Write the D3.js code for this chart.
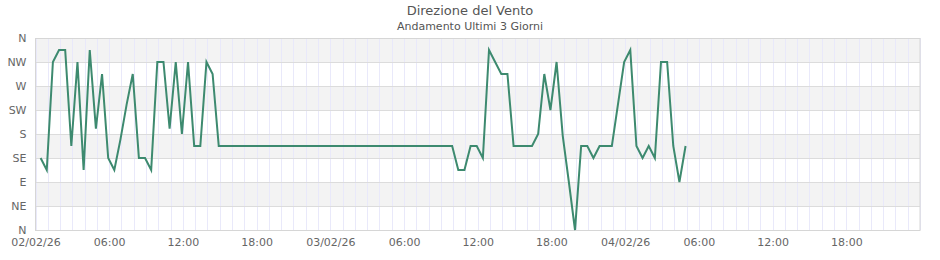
<!DOCTYPE html>
<html>
<head>
<meta charset="utf-8">
<script src="https://cdn.jsdelivr.net/npm/d3@7"></script>
<style>
  html, body { margin: 0; padding: 0; background: #fff; }
  svg { display: block; font-family: "DejaVu Sans", sans-serif; }
</style>
</head>
<body>
<div id="chart"></div>
<script>
// chart data
const title = "Direzione del Vento";
const subtitle = "Andamento Ultimi 3 Giorni";
const dirLabels = ["N", "NE", "E", "SE", "S", "SW", "W", "NW", "N"];
const dirDegrees = [0, 45, 90, 135, 180, 225, 270, 315, 360];
const startTime = "2026-02-02T00:25:00Z";
const stepMinutes = 30;
const axisStart = "2026-02-02T00:00:00Z";
const axisEnd = "2026-02-05T00:00:00Z";
// wind direction in degrees, one reading every 30 min
const direction = [
  135, 112.5, 315, 337.5, 337.5, 157.5, 315, 112.5, 337.5, 190,
  292.5, 135, 112.5, 170, 235, 292.5, 135, 135, 112.5, 315,
  315, 190, 315, 180, 315, 157.5, 157.5, 315, 292.5, 157.5,
  157.5, 157.5, 157.5, 157.5, 157.5, 157.5, 157.5, 157.5, 157.5, 157.5,
  157.5, 157.5, 157.5, 157.5, 157.5, 157.5, 157.5, 157.5, 157.5, 157.5,
  157.5, 157.5, 157.5, 157.5, 157.5, 157.5, 157.5, 157.5, 157.5, 157.5,
  157.5, 157.5, 157.5, 157.5, 157.5, 157.5, 157.5, 157.5, 112.5, 112.5,
  157.5, 157.5, 135, 337.5, 315, 292.5, 292.5, 157.5, 157.5, 157.5,
  157.5, 180, 292.5, 225, 315, 177, 90, 0, 157.5, 157.5,
  135, 157.5, 157.5, 157.5, 236, 315, 337.5, 157.5, 135, 157.5,
  135, 315, 315, 157.5, 90, 157.5
];

const width = 940, height = 260;
const margin = { top: 38, right: 20, bottom: 30, left: 35.5 };

const t0 = new Date(startTime).getTime();
const points = direction.map((d, i) => ({ t: new Date(t0 + i * stepMinutes * 60000), v: d }));

const svg = d3.select("#chart").append("svg")
  .attr("width", width)
  .attr("height", height);

const x = d3.scaleUtc()
  .domain([new Date(axisStart), new Date(axisEnd)])
  .range([margin.left, width - margin.right]);

const y = d3.scaleLinear()
  .domain([0, 360])
  .range([height - margin.bottom, margin.top]);

// alternating bands
for (let i = 0; i < dirDegrees.length - 1; i++) {
  svg.append("rect")
    .attr("x", x.range()[0])
    .attr("width", x.range()[1] - x.range()[0])
    .attr("y", y(dirDegrees[i + 1]))
    .attr("height", y(dirDegrees[i]) - y(dirDegrees[i + 1]))
    .attr("fill", i % 2 === 1 ? "#f3f3f3" : "#ffffff");
}

// hourly vertical grid
svg.append("g")
  .selectAll("line")
  .data(x.ticks(d3.utcHour.every(1)))
  .join("line")
    .attr("x1", d => Math.round(x(d)) + 0.5)
    .attr("x2", d => Math.round(x(d)) + 0.5)
    .attr("y1", y.range()[1])
    .attr("y2", y.range()[0])
    .attr("stroke", "#e9e9fa")
    .attr("stroke-width", 1);

// horizontal grid
svg.append("g")
  .selectAll("line")
  .data(dirDegrees)
  .join("line")
    .attr("x1", x.range()[0])
    .attr("x2", x.range()[1])
    .attr("y1", d => Math.round(y(d)) + 0.5)
    .attr("y2", d => Math.round(y(d)) + 0.5)
    .attr("stroke", "#dcdcdc")
    .attr("stroke-width", 1);

// frame
svg.append("rect")
  .attr("x", x.range()[0])
  .attr("y", y.range()[1] + 0.5)
  .attr("width", x.range()[1] - x.range()[0])
  .attr("height", y.range()[0] - y.range()[1])
  .attr("fill", "none")
  .attr("stroke", "#d6d6d6");

// y axis
const yAxis = d3.axisLeft(y)
  .tickValues(dirDegrees)
  .tickFormat((d, i) => dirLabels[i])
  .tickSize(0)
  .tickPadding(9);
const gy = svg.append("g")
  .attr("transform", `translate(${x.range()[0]},0)`)
  .call(yAxis);
gy.select(".domain").remove();
gy.selectAll("text").attr("fill", "#666").attr("font-size", 11).attr("font-family", "DejaVu Sans");

// x axis
const fmtDate = d3.utcFormat("%d/%m/%y");
const fmtHour = d3.utcFormat("%H:%M");
const xAxis = d3.axisBottom(x)
  .ticks(d3.utcHour.every(6))
  .tickFormat(d => d.getUTCHours() === 0 ? fmtDate(d) : fmtHour(d))
  .tickSize(0)
  .tickPadding(8);
const gx = svg.append("g")
  .attr("transform", `translate(0,${y.range()[0]})`)
  .call(xAxis);
gx.select(".domain").remove();
gx.selectAll(".tick").filter(d => +d === +x.domain()[1]).remove();
gx.selectAll("text").attr("fill", "#666").attr("font-size", 11).attr("font-family", "DejaVu Sans");

// the line
const line = d3.line()
  .x(d => x(d.t))
  .y(d => y(d.v));

svg.append("path")
  .datum(points)
  .attr("d", line)
  .attr("fill", "none")
  .attr("stroke", "#3d8a6f")
  .attr("stroke-width", 2)
  .attr("stroke-linejoin", "miter");

// titles
svg.append("text")
  .attr("x", width / 2)
  .attr("y", 15)
  .attr("text-anchor", "middle")
  .attr("font-size", 13)
  .attr("fill", "#555")
  .text(title);

svg.append("text")
  .attr("x", width / 2)
  .attr("y", 30)
  .attr("text-anchor", "middle")
  .attr("font-size", 11)
  .attr("fill", "#555")
  .text(subtitle);
</script>
</body>
</html>
